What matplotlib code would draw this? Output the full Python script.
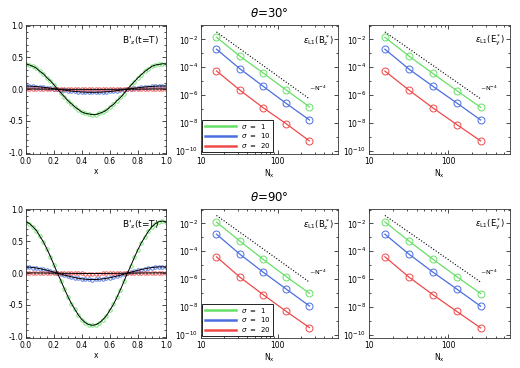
import numpy as np
import matplotlib
matplotlib.use("Agg")
import matplotlib.pyplot as plt
from matplotlib.ticker import MultipleLocator, FixedLocator, NullFormatter, LogFormatterMathtext, FixedFormatter

plt.rcParams['font.family'] = ['DejaVu Sans']
plt.rcParams['mathtext.fontset'] = 'dejavusans'

# ---- data ----
x_grid = [0.0, 0.025, 0.05, 0.075, 0.1, 0.125, 0.15, 0.175, 0.2, 0.225,
          0.25, 0.275, 0.3, 0.325, 0.35, 0.375, 0.4, 0.425, 0.45, 0.475,
          0.5, 0.525, 0.55, 0.575, 0.6, 0.625, 0.65, 0.675, 0.7, 0.725,
          0.75, 0.775, 0.8, 0.825, 0.85, 0.875, 0.9, 0.925, 0.95, 0.975, 1.0]

bz30_s1 = [0.40, 0.38, 0.36, 0.33, 0.28, 0.24, 0.18, 0.13, 0.07, 0.00,
           -0.06, -0.12, -0.18, -0.23, -0.28, -0.32, -0.36, -0.38, -0.39, -0.40,
           -0.40, -0.38, -0.36, -0.33, -0.28, -0.24, -0.18, -0.13, -0.07, 0.00,
           0.06, 0.12, 0.18, 0.23, 0.28, 0.32, 0.36, 0.38, 0.39, 0.40, 0.40]
bz30_s10 = [0.050, 0.048, 0.045, 0.041, 0.036, 0.030, 0.023, 0.016, 0.008, 0.000,
            -0.008, -0.015, -0.022, -0.029, -0.035, -0.040, -0.044, -0.047, -0.049, -0.050,
            -0.049, -0.048, -0.045, -0.041, -0.036, -0.030, -0.023, -0.016, -0.008, 0.000,
            0.008, 0.015, 0.022, 0.029, 0.035, 0.040, 0.044, 0.047, 0.049, 0.050, 0.049]
bz30_s20 = [0.003, 0.003, 0.003, 0.002, 0.002, 0.002, 0.001, 0.001, 0.000, 0.000,
            0.000, -0.001, -0.001, -0.002, -0.002, -0.002, -0.003, -0.003, -0.003, -0.003,
            -0.003, -0.003, -0.003, -0.002, -0.002, -0.002, -0.001, -0.001, 0.000, 0.000,
            0.000, 0.001, 0.001, 0.002, 0.002, 0.002, 0.003, 0.003, 0.003, 0.003, 0.003]

bz90_s1 = [0.81, 0.78, 0.73, 0.67, 0.58, 0.49, 0.38, 0.26, 0.13, 0.00,
           -0.12, -0.25, -0.37, -0.48, -0.57, -0.66, -0.73, -0.78, -0.81, -0.82,
           -0.81, -0.78, -0.73, -0.67, -0.58, -0.49, -0.38, -0.26, -0.13, 0.00,
           0.12, 0.25, 0.37, 0.48, 0.57, 0.66, 0.73, 0.78, 0.81, 0.82, 0.81]
bz90_s10 = [0.099, 0.095, 0.089, 0.081, 0.071, 0.059, 0.046, 0.032, 0.016, 0.001,
            -0.015, -0.030, -0.045, -0.058, -0.070, -0.080, -0.089, -0.095, -0.099, -0.100,
            -0.099, -0.095, -0.089, -0.081, -0.071, -0.059, -0.046, -0.032, -0.016, -0.001,
            0.015, 0.030, 0.045, 0.058, 0.070, 0.080, 0.089, 0.095, 0.099, 0.100, 0.099]
bz90_s20 = [0.005, 0.005, 0.004, 0.004, 0.003, 0.003, 0.002, 0.002, 0.001, 0.000,
            -0.001, -0.002, -0.002, -0.003, -0.003, -0.004, -0.004, -0.005, -0.005, -0.005,
            -0.005, -0.005, -0.004, -0.004, -0.003, -0.003, -0.002, -0.002, -0.001, 0.000,
            0.001, 0.002, 0.002, 0.003, 0.003, 0.004, 0.004, 0.005, 0.005, 0.005, 0.005]

N_x = [16, 32, 64, 128, 256]

err30_bz = {1: [1.45e-2, 6.4e-4, 4.0e-5, 2.3e-6, 1.4e-7],
            10: [2.0e-3, 8.0e-5, 4.4e-6, 2.5e-7, 1.6e-8],
            20: [5.5e-5, 2.3e-6, 1.25e-7, 8.5e-9, 5.0e-10]}
err30_ey = {1: [1.45e-2, 6.5e-4, 3.6e-5, 2.1e-6, 1.3e-7],
            10: [2.0e-3, 7.5e-5, 4.3e-6, 2.7e-7, 1.6e-8],
            20: [5.3e-5, 2.3e-6, 1.2e-7, 7.5e-9, 5.0e-10]}
err90_bz = {1: [1.26e-2, 5.5e-4, 2.7e-5, 1.5e-6, 9.5e-8],
            10: [1.7e-3, 6.3e-5, 3.2e-6, 1.9e-7, 1.15e-8],
            20: [4.0e-5, 1.4e-6, 7.7e-8, 4.7e-9, 3.2e-10]}
err90_ey = {1: [1.3e-2, 5.5e-4, 2.7e-5, 1.5e-6, 9.0e-8],
            10: [1.7e-3, 6.3e-5, 3.2e-6, 1.9e-7, 1.1e-8],
            20: [4.0e-5, 1.4e-6, 7.5e-8, 4.7e-9, 3.0e-10]}

ref_N = [16, 256]
ref_30 = [3.5e-2, 5.3e-7]
ref_90 = [3.8e-2, 6.0e-7]

sigmas = [1, 10, 20]
colors = {1: '#66e066', 10: '#4a6ee0', 20: '#ee4a4a'}

fs = 5.5

fig = plt.figure(figsize=(5.2, 3.68), dpi=100)


def style_axes(ax):
    ax.tick_params(which='both', direction='in', top=True, right=True,
                   labelsize=fs, width=0.5, pad=2)
    ax.tick_params(which='major', length=3)
    ax.tick_params(which='minor', length=1.5)
    for s in ax.spines.values():
        s.set_linewidth(0.6)
        s.set_color('#333333')


def left_panel(rect, ys):
    ax = fig.add_axes(rect)
    for s, y in zip(sigmas, ys):
        ax.plot(x_grid, y, 'o', mfc='none', mec=colors[s], ms=2.5, mew=0.6)
    for y in ys:
        ax.plot(x_grid, y, '-', color='black', lw=0.7)
    ax.set_xlim(0, 1)
    ax.set_ylim(-1.02, 1.01)
    ax.xaxis.set_major_locator(MultipleLocator(0.2))
    ax.xaxis.set_minor_locator(MultipleLocator(0.05))
    ax.yaxis.set_major_locator(MultipleLocator(0.5))
    ax.yaxis.set_minor_locator(MultipleLocator(0.1))
    ax.xaxis.set_major_formatter(plt.FormatStrFormatter('%.1f'))
    ax.yaxis.set_major_formatter(plt.FormatStrFormatter('%.1f'))
    ax.set_xlabel('x', fontsize=fs, labelpad=1)
    ax.text(0.95, 0.93, r"B$'_\mathregular{z}$(t=T)", transform=ax.transAxes,
            ha='right', va='top', fontsize=6.5)
    style_axes(ax)
    return ax


def err_panel(rect, errs, ref, label, legend=False):
    ax = fig.add_axes(rect)
    for s in sigmas:
        ax.plot(N_x, errs[s], '-', color=colors[s], lw=0.9, label=r'$\sigma$  =  %d' % s)
        ax.plot(N_x, errs[s], 'o', mfc='none', mec=colors[s], ms=5, mew=0.7)
    ax.plot(ref_N, ref, ':', color='black', lw=0.8)
    ax.set_xscale('log')
    ax.set_yscale('log')
    ax.set_xlim(10, 600)
    ax.set_ylim(5.7e-11, 1.1e-1)
    ax.xaxis.set_major_locator(FixedLocator([10, 100]))
    ax.xaxis.set_major_formatter(FixedFormatter(['10', '100']))
    ax.xaxis.set_minor_locator(FixedLocator([20, 30, 40, 50, 60, 70, 80, 90,
                                             200, 300, 400, 500]))
    ax.xaxis.set_minor_formatter(NullFormatter())
    ax.yaxis.set_major_locator(FixedLocator([1e-10, 1e-8, 1e-6, 1e-4, 1e-2]))
    ax.yaxis.set_major_formatter(LogFormatterMathtext())
    ax.yaxis.set_minor_locator(FixedLocator([1e-9, 1e-7, 1e-5, 1e-3, 1e-1]))
    ax.yaxis.set_minor_formatter(NullFormatter())
    ax.set_xlabel(r'N$_\mathregular{x}$', fontsize=fs, labelpad=1)
    ax.text(0.79, 0.51, r'~N$^{-4}$', transform=ax.transAxes,
            ha='left', va='center', fontsize=4.5)
    ax.text(0.97, 0.94, label, transform=ax.transAxes,
            ha='right', va='top', fontsize=6)
    if legend:
        leg = ax.legend(loc='lower left', fontsize=5, handlelength=4.5,
                        borderaxespad=0.25, borderpad=0.3, labelspacing=0.1,
                        fancybox=False, framealpha=1)
        leg.get_frame().set_edgecolor('black')
        leg.get_frame().set_linewidth(0.6)
        for ln in leg.get_lines():
            ln.set_linewidth(1.8)
    style_axes(ax)
    return ax


lab_bz = r'$\epsilon_{\mathregular{L1}}$(B$^*_\mathregular{z}$)'
lab_ey = r'$\epsilon_{\mathregular{L1}}$(E$^*_\mathregular{y}$)'

top_b, bot_b, h = 0.5815, 0.0815, 0.3505

left_panel([0.05, top_b, 0.269, h], [bz30_s1, bz30_s10, bz30_s20])
err_panel([0.386, top_b, 0.264, h], err30_bz, ref_30, lab_bz, legend=True)
err_panel([0.709, top_b, 0.272, h], err30_ey, ref_30, lab_ey)

left_panel([0.05, bot_b, 0.269, h], [bz90_s1, bz90_s10, bz90_s20])
err_panel([0.386, bot_b, 0.264, h], err90_bz, ref_90, lab_bz, legend=True)
err_panel([0.709, bot_b, 0.272, h], err90_ey, ref_90, lab_ey)

fig.text(0.518, 0.962, r'$\theta$=30°', ha='center', va='center', fontsize=8.5)
fig.text(0.518, 0.462, r'$\theta$=90°', ha='center', va='center', fontsize=8.5)

fig.savefig('out.png', dpi=100)
